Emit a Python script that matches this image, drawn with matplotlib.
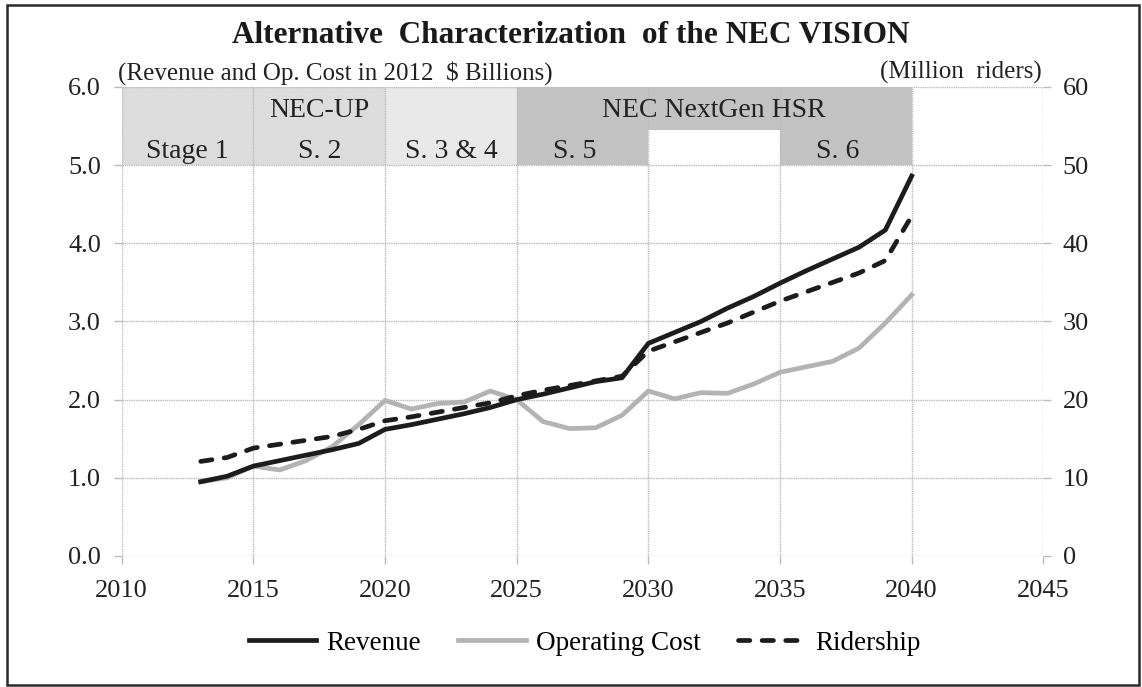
import matplotlib.pyplot as plt
from matplotlib.patches import Rectangle

years = list(range(2013, 2041))
revenue = [0.95, 1.02, 1.15, 1.22, 1.29, 1.36, 1.44, 1.62, 1.68, 1.75,
           1.82, 1.90, 2.00, 2.07, 2.15, 2.23, 2.28, 2.72, 2.86, 3.00,
           3.17, 3.32, 3.49, 3.65, 3.80, 3.95, 4.17, 4.86]
op_cost = [0.95, 1.00, 1.15, 1.10, 1.22, 1.40, 1.68, 1.99, 1.88, 1.95,
           1.97, 2.11, 2.00, 1.72, 1.63, 1.64, 1.80, 2.11, 2.01, 2.09,
           2.08, 2.20, 2.35, 2.42, 2.49, 2.66, 2.98, 3.34]
ridership = [12.1, 12.6, 13.8, 14.3, 14.8, 15.3, 16.2, 17.3, 17.8, 18.4,
             19.0, 19.6, 20.5, 21.2, 21.8, 22.4, 23.0, 26.2, 27.4, 28.6,
             29.8, 31.2, 32.6, 33.8, 35.0, 36.2, 37.8, 43.5]

# stage band cells: (x0, x1, y0, y1, colour)
band_cells = [
    (2010, 2020, 5.0, 6.0, '#dcdcdc'),
    (2020, 2025, 5.0, 6.0, '#e8e8e8'),
    (2025, 2040, 5.45, 6.0, '#c2c2c2'),
    (2025, 2030, 5.0, 5.45, '#c2c2c2'),
    (2035, 2040, 5.0, 5.45, '#c2c2c2'),
]
band_labels = [
    ('Stage 1', 2012.5, 5.18), ('NEC-UP', 2017.5, 5.7), ('S. 2', 2017.5, 5.18),
    ('S. 3 & 4', 2022.5, 5.18), ('S. 5', 2027.2, 5.18),
    ('NEC NextGen HSR', 2032.5, 5.7), ('S. 6', 2037.2, 5.18),
]

plt.rcParams['font.family'] = ['Liberation Serif', 'DejaVu Serif']

fig = plt.figure(figsize=(11.42, 6.87), dpi=100)
ax = fig.add_axes([0.1066, 0.1907, 0.8070, 0.6827])
ax2 = ax.twinx()

for x0, x1, y0, y1, c in band_cells:
    ax.add_patch(Rectangle((x0, y0), x1 - x0, y1 - y0, facecolor=c,
                           edgecolor='none', zorder=0))
for txt, x, y in band_labels:
    ax.text(x, y, txt, ha='center', va='center', fontsize=20, color='#222222', zorder=1)

ax.plot(years, revenue, color='#1c1c1c', lw=3.4, zorder=4, label='Revenue')
ax.plot(years, op_cost, color='#b3b3b3', lw=3.4, zorder=3, label='Operating Cost')
ax2.plot(years, ridership, color='#1c1c1c', lw=3.4, ls=(0, (2.4, 2.6)),
         dash_capstyle='round', zorder=4, label='Ridership')

ax.set_xlim(2010, 2045)
ax.set_ylim(0, 6)
ax2.set_ylim(0, 60)
ax.set_xticks(range(2010, 2046, 5))
ax.set_yticks([0, 1, 2, 3, 4, 5, 6])
ax.set_yticklabels([f'{v:.1f}' for v in range(7)])
ax2.set_yticks(range(0, 61, 10))

ax.grid(True, color='#bcbcbc', lw=1.0, ls=(0, (1, 0.6)))
ax.set_axisbelow(True)
for a in (ax, ax2):
    for s in a.spines.values():
        s.set_visible(False)
ax.tick_params(axis='both', labelsize=19, colors='#bcbcbc', labelcolor='#222222',
               length=6, width=1.0)
ax.tick_params(axis='y', pad=9)
ax.tick_params(axis='x', pad=11)
ax2.tick_params(axis='y', labelsize=19, colors='#bcbcbc', labelcolor='#222222',
                length=6, width=1.0, pad=8)

fig.text(0.5, 0.948, 'Alternative  Characterization  of the NEC VISION',
         ha='center', va='center', fontsize=22.5, fontweight='bold', color='#1a1a1a')
fig.text(0.1033, 0.894, '(Revenue and Op. Cost in 2012  $ Billions)',
         ha='left', va='center', fontsize=18, color='#222222')
fig.text(0.9125, 0.894, '(Million  riders)', ha='right', va='center',
         fontsize=18, color='#222222')

h1, l1 = ax.get_legend_handles_labels()
h2, l2 = ax2.get_legend_handles_labels()
fig.legend(h1 + h2, l1 + l2, loc='center', bbox_to_anchor=(0.512, 0.064), ncol=3,
           frameon=False, fontsize=19.5, handlelength=2.5, handletextpad=0.35,
           columnspacing=1.4)

fig.add_artist(Rectangle((7 / 1142, 2 / 687), 1132 / 1142, 680 / 687,
                         transform=fig.transFigure, fill=False,
                         edgecolor='#2a2a2a', lw=1.8))

fig.savefig('out.png', dpi=100)
